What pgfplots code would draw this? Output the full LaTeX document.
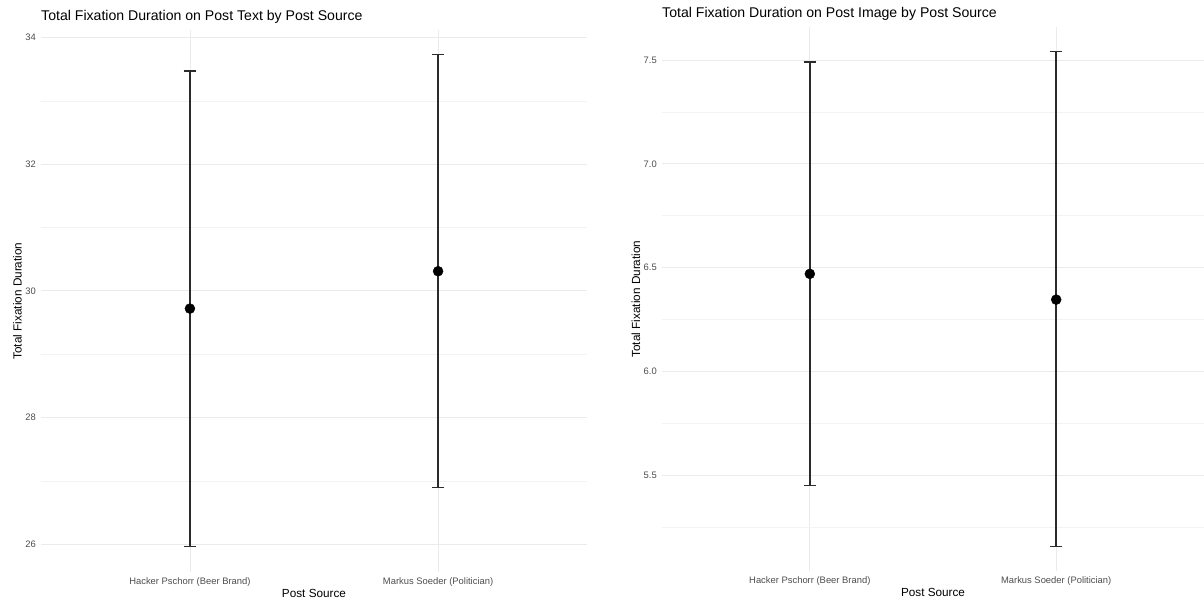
\documentclass[border=0pt]{standalone}
\usepackage{fontspec}
\setmainfont{Liberation Sans}
\usepackage{pgfplots}
\pgfplotsset{compat=1.18}
\definecolor{tickgray}{HTML}{4D4D4D}
\definecolor{gridmaj}{HTML}{EBEBEB}
\definecolor{gridmin}{HTML}{F3F3F3}
\definecolor{barcol}{HTML}{2B2B2B}
\pgfplotsset{
  ggstyle/.style={
    scale only axis,
    anchor=south west,
    xmin=0.4, xmax=2.6,
    axis line style={draw=none},
    major tick length=0pt, minor tick length=0pt,
    xtick={1,2},
    xticklabels={Hacker Pschorr (Beer Brand), Markus Soeder (Politician)},
    xmajorgrids, ymajorgrids, yminorgrids,
    major grid style={color=gridmaj, line width=0.8pt},
    minor grid style={color=gridmin, line width=0.6pt},
    ticklabel style={font=\fontsize{9.4}{11}\selectfont, text=tickgray},
    xticklabel style={inner sep=0pt, yshift=-5pt, anchor=north},
    yticklabel style={inner sep=0pt, xshift=-5pt, anchor=east},
    label style={font=\fontsize{11.75}{13}\selectfont, text=black},
    xlabel={Post Source},
    ylabel={Total Fixation Duration},
    title style={at={(axis description cs:0,1)}, anchor=base west, yshift=3.5pt, font=\fontsize{14.1}{16}\selectfont, inner sep=0pt},
    clip=false,
  },
  ebar/.style={
    only marks, mark=*, mark size=5pt, draw=black, fill=black,
    mark options={draw=black, fill=black},
    error bars/.cd, y dir=both, y explicit,
    error bar style={line width=1.4pt, color=barcol},
    error mark options={rotate=90, mark size=6.3pt, line width=1.4pt, color=barcol},
  },
}
\begin{document}
\begin{tikzpicture}[x=1pt,y=1pt]
\useasboundingbox (0,0) rectangle (1204,605);
\begin{axis}[ggstyle,
  at={(41pt,33pt)}, width=546pt, height=542pt,
  ymin=25.56, ymax=34.12,
  ytick={26,28,30,32,34}, yticklabels={26,28,30,32,34},
  minor ytick={27,29,31,33},
  title={Total Fixation Duration on Post Text by Post Source},
]
\addplot[ebar] coordinates {
  (1,29.72) += (0,3.75) -= (0,3.76)
  (2,30.31) += (0,3.42) -= (0,3.42)
};
\end{axis}
\begin{axis}[ggstyle,
  at={(662pt,34pt)}, width=542pt, height=544pt,
  ymin=5.039, ymax=7.659,
  ytick={5.5,6,6.5,7,7.5}, yticklabels={5.5,6.0,6.5,7.0,7.5},
  minor ytick={5.25,5.75,6.25,6.75,7.25},
  title={Total Fixation Duration on Post Image by Post Source},
]
\addplot[ebar] coordinates {
  (1,6.47) += (0,1.02) -= (0,1.02)
  (2,6.346) += (0,1.194) -= (0,1.188)
};
\end{axis}
\end{tikzpicture}
\end{document}
